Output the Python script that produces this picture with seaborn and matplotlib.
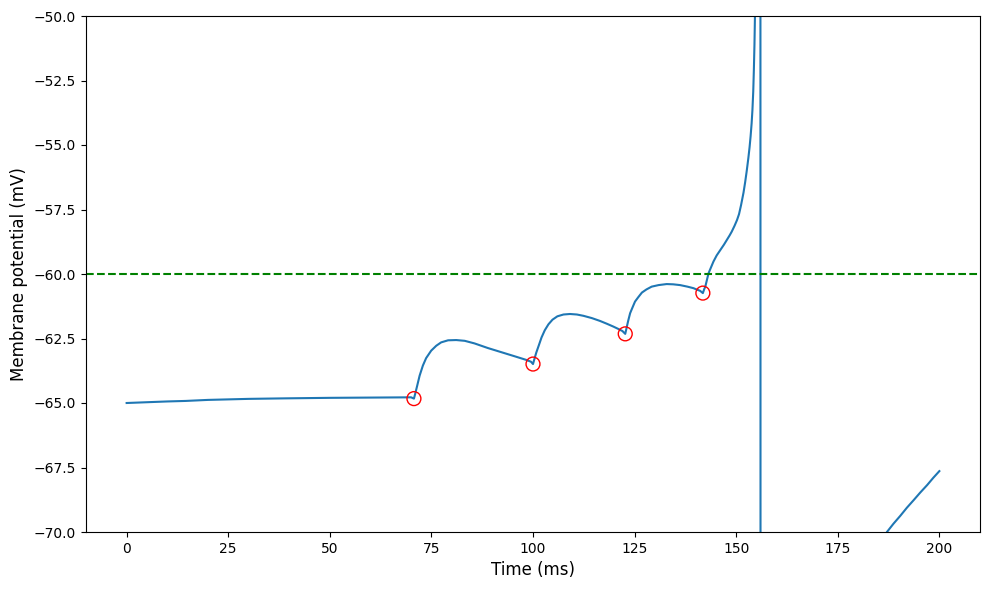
import matplotlib
matplotlib.use("Agg")
import matplotlib.pyplot as plt
import seaborn as sns
import pandas as pd

# Membrane potential trace
t_ms = [0.0, 5.0, 10.0, 14.5, 20.0, 30.0, 39.0, 50.0, 60.0, 70.0,
        # input 1 and bump
        70.7, 71.0, 71.5, 72.1, 72.9, 73.7, 74.95, 76.2, 77.4, 79.1, 81.1, 83.2, 85.6,
        88.9, 92.2, 95.5, 98.35, 99.5,
        # input 2 and bump
        100.0, 100.3, 100.8, 101.4, 102.1, 102.9, 103.8, 104.8, 106.0, 107.5, 109.1,
        110.8, 112.4, 114.5, 116.5, 118.2, 119.8, 121.0, 122.0,
        # input 3 and bump
        122.7, 122.9, 123.1, 123.4, 123.9, 124.4, 125.1, 125.9, 126.8, 127.9, 129.2,
        130.9, 132.9, 134.5, 136.2, 138.0, 139.5, 140.4, 141.1,
        # input 4 and run-up to the spike
        141.8, 142.1, 142.4, 143.2, 144.4, 145.2, 146.1, 147.0, 147.7, 148.4, 148.9,
        149.6, 150.2, 150.7, 151.2, 151.8, 152.2, 152.6, 153.0, 153.3, 153.55, 153.8,
        154.0, 154.2, 154.35, 154.5, 154.62,
        155.0, 155.9, 156.0,
        # reset and recovery
        165.0, 175.0, 187.1, 188.7, 190.4, 192.0, 193.7, 195.3, 197.0, 198.5, 200.0]
v_mv = [-65.0, -64.97, -64.94, -64.92, -64.88, -64.84, -64.82, -64.80, -64.79, -64.78,
        -64.83, -64.65, -64.33, -63.94, -63.55, -63.26, -62.97, -62.78, -62.65, -62.57, -62.56,
        -62.59, -62.69, -62.87, -63.03, -63.19, -63.33, -63.40,
        -63.49, -63.32, -63.05, -62.78, -62.46, -62.18, -61.95, -61.77, -61.64, -61.57, -61.55,
        -61.57, -61.62, -61.71, -61.82, -61.93, -62.04, -62.13, -62.21,
        -62.32, -62.18, -62.04, -61.83, -61.52, -61.33, -61.07, -60.90, -60.72, -60.60, -60.49,
        -60.43, -60.39, -60.40, -60.43, -60.49, -60.55, -60.61, -60.65,
        -60.74, -60.60, -60.49, -59.97, -59.52, -59.28, -59.07, -58.86, -58.68, -58.50, -58.36,
        -58.13, -57.91, -57.68, -57.33, -56.85, -56.45, -56.00, -55.50, -55.08, -54.66, -54.16,
        -53.64, -52.92, -52.10, -51.10, -50.0,
        -30.0, 30.0, -85.0,
        -78.5, -73.5, -70.0, -69.68, -69.37, -69.06, -68.76, -68.47, -68.18, -67.90, -67.64]

# Input spike markers
spike_t = [70.7, 100.0, 122.7, 141.8]
spike_v = [-64.83, -63.49, -62.32, -60.74]

threshold = -60.0

fig, ax = plt.subplots(figsize=(9.89, 5.9), dpi=100)

df = pd.DataFrame({"t": t_ms, "v": v_mv})
sns.lineplot(data=df, x="t", y="v", sort=False, estimator=None, ax=ax,
             color="#1f77b4", linewidth=1.5)

ax.axhline(threshold, color="green", linestyle="--", linewidth=1.5)

sns.scatterplot(x=spike_t, y=spike_v, ax=ax, s=100, facecolors="none",
                edgecolor="red", linewidth=1.0, marker="o", zorder=5)

ax.set_xlim(-10, 210)
ax.set_ylim(-70, -50)
ax.set_xlabel("Time (ms)", fontsize=12)
ax.set_ylabel("Membrane potential (mV)", fontsize=12)

fig.subplots_adjust(left=86 / 989, right=980 / 989, top=1 - 16 / 590, bottom=1 - 532 / 590)
fig.savefig("out.png", dpi=100)
